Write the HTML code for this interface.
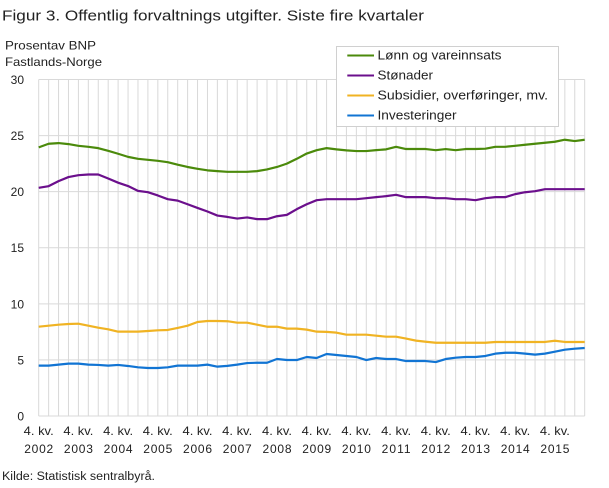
<!DOCTYPE html>
<html><head><meta charset="utf-8"><style>
html,body{margin:0;padding:0;background:#fff;}
svg{display:block;font-family:"Liberation Sans",sans-serif;}
</style></head><body>
<svg width="609" height="488" viewBox="0 0 609 488" xmlns="http://www.w3.org/2000/svg">
<rect width="609" height="488" fill="#fff"/>
<text x="2" y="20.5" font-size="14.5" fill="#222" textLength="422" lengthAdjust="spacingAndGlyphs">Figur 3. Offentlig forvaltnings utgifter. Siste fire kvartaler</text>
<text x="5" y="49.5" font-size="12" fill="#222" textLength="91" lengthAdjust="spacingAndGlyphs">Prosentav BNP</text>
<text x="5" y="66" font-size="12" fill="#222" textLength="97" lengthAdjust="spacingAndGlyphs">Fastlands-Norge</text>

<g transform="translate(38.7,416) scale(9.927,-11.217)" fill="none">
<path vector-effect="non-scaling-stroke" stroke="#d9d9d9" stroke-width="1" d="M0,0V30M1,0V30M2,0V30M3,0V30M4,0V30M5,0V30M6,0V30M7,0V30M8,0V30M9,0V30M10,0V30M11,0V30M12,0V30M13,0V30M14,0V30M15,0V30M16,0V30M17,0V30M18,0V30M19,0V30M20,0V30M21,0V30M22,0V30M23,0V30M24,0V30M25,0V30M26,0V30M27,0V30M28,0V30M29,0V30M30,0V30M31,0V30M32,0V30M33,0V30M34,0V30M35,0V30M36,0V30M37,0V30M38,0V30M39,0V30M40,0V30M41,0V30M42,0V30M43,0V30M44,0V30M45,0V30M46,0V30M47,0V30M48,0V30M49,0V30M50,0V30M51,0V30M52,0V30M53,0V30M54,0V30M55,0V30M0,0H55M0,5H55M0,10H55M0,15H55M0,20H55M0,25H55M0,30H55"/>
<polyline vector-effect="non-scaling-stroke" stroke="#4b8a0b" stroke-width="2.2" stroke-linejoin="round" points="0,23.95 1,24.27 2,24.33 3,24.24 4,24.09 5,24.0 6,23.88 7,23.64 8,23.38 9,23.1 10,22.93 11,22.84 12,22.75 13,22.63 14,22.4 15,22.2 16,22.04 17,21.9 18,21.83 19,21.77 20,21.77 21,21.77 22,21.83 23,21.98 24,22.2 25,22.5 26,22.93 27,23.4 28,23.7 29,23.88 30,23.77 31,23.68 32,23.62 33,23.62 34,23.7 35,23.77 36,24.0 37,23.8 38,23.8 39,23.8 40,23.7 41,23.8 42,23.7 43,23.8 44,23.8 45,23.83 46,24.0 47,24.0 48,24.09 49,24.18 50,24.27 51,24.36 52,24.45 53,24.63 54,24.51 55,24.63"/>
<polyline vector-effect="non-scaling-stroke" stroke="#6b0f8c" stroke-width="2.2" stroke-linejoin="round" points="0,20.34 1,20.49 2,20.94 3,21.3 4,21.47 5,21.53 6,21.53 7,21.17 8,20.8 9,20.5 10,20.07 11,19.95 12,19.66 13,19.33 14,19.2 15,18.88 16,18.55 17,18.23 18,17.87 19,17.75 20,17.6 21,17.7 22,17.55 23,17.55 24,17.81 25,17.93 26,18.44 27,18.88 28,19.24 29,19.33 30,19.33 31,19.33 32,19.33 33,19.42 34,19.51 35,19.6 36,19.72 37,19.51 38,19.51 39,19.51 40,19.42 41,19.42 42,19.33 43,19.33 44,19.24 45,19.42 46,19.51 47,19.51 48,19.78 49,19.95 50,20.04 51,20.22 52,20.22 53,20.22 54,20.22 55,20.22"/>
<polyline vector-effect="non-scaling-stroke" stroke="#f0b323" stroke-width="2.2" stroke-linejoin="round" points="0,7.96 1,8.05 2,8.14 3,8.2 4,8.23 5,8.05 6,7.87 7,7.73 8,7.52 9,7.52 10,7.52 11,7.58 12,7.64 13,7.67 14,7.85 15,8.05 16,8.38 17,8.47 18,8.47 19,8.45 20,8.32 21,8.32 22,8.14 23,7.96 24,7.96 25,7.79 26,7.79 27,7.7 28,7.52 29,7.5 30,7.43 31,7.25 32,7.25 33,7.25 34,7.16 35,7.07 36,7.07 37,6.9 38,6.72 39,6.62 40,6.53 41,6.53 42,6.53 43,6.53 44,6.53 45,6.53 46,6.6 47,6.6 48,6.6 49,6.6 50,6.6 51,6.6 52,6.71 53,6.6 54,6.6 55,6.6"/>
<polyline vector-effect="non-scaling-stroke" stroke="#1174d3" stroke-width="2.2" stroke-linejoin="round" points="0,4.49 1,4.49 2,4.58 3,4.67 4,4.67 5,4.58 6,4.55 7,4.49 8,4.55 9,4.46 10,4.34 11,4.28 12,4.28 13,4.34 14,4.49 15,4.49 16,4.49 17,4.58 18,4.4 19,4.47 20,4.58 21,4.72 22,4.75 23,4.75 24,5.08 25,4.99 26,4.99 27,5.26 28,5.17 29,5.53 30,5.44 31,5.35 32,5.26 33,4.99 34,5.17 35,5.08 36,5.08 37,4.9 38,4.9 39,4.9 40,4.81 41,5.08 42,5.2 43,5.26 44,5.26 45,5.35 46,5.56 47,5.64 48,5.64 49,5.56 50,5.47 51,5.56 52,5.73 53,5.91 54,6.0 55,6.06"/>
</g>

<g font-size="12" fill="#222" text-anchor="end">
<text x="24" y="84">30</text>
<text x="24" y="140">25</text>
<text x="24" y="196">20</text>
<text x="24" y="252.2">15</text>
<text x="24" y="308.3">10</text>
<text x="24" y="364.4">5</text>
<text x="24" y="420.3">0</text>
</g>

<g font-size="12" fill="#222" text-anchor="middle">
<text x="38.7" y="435" textLength="30" lengthAdjust="spacingAndGlyphs">4. kv.</text><text x="38.7" y="453" textLength="29" lengthAdjust="spacing">2002</text>
<text x="78.4" y="435" textLength="30" lengthAdjust="spacingAndGlyphs">4. kv.</text><text x="78.4" y="453" textLength="29" lengthAdjust="spacing">2003</text>
<text x="118.1" y="435" textLength="30" lengthAdjust="spacingAndGlyphs">4. kv.</text><text x="118.1" y="453" textLength="29" lengthAdjust="spacing">2004</text>
<text x="157.8" y="435" textLength="30" lengthAdjust="spacingAndGlyphs">4. kv.</text><text x="157.8" y="453" textLength="29" lengthAdjust="spacing">2005</text>
<text x="197.5" y="435" textLength="30" lengthAdjust="spacingAndGlyphs">4. kv.</text><text x="197.5" y="453" textLength="29" lengthAdjust="spacing">2006</text>
<text x="237.2" y="435" textLength="30" lengthAdjust="spacingAndGlyphs">4. kv.</text><text x="237.2" y="453" textLength="29" lengthAdjust="spacing">2007</text>
<text x="277" y="435" textLength="30" lengthAdjust="spacingAndGlyphs">4. kv.</text><text x="277" y="453" textLength="29" lengthAdjust="spacing">2008</text>
<text x="316.7" y="435" textLength="30" lengthAdjust="spacingAndGlyphs">4. kv.</text><text x="316.7" y="453" textLength="29" lengthAdjust="spacing">2009</text>
<text x="356.4" y="435" textLength="30" lengthAdjust="spacingAndGlyphs">4. kv.</text><text x="356.4" y="453" textLength="29" lengthAdjust="spacing">2010</text>
<text x="396.1" y="435" textLength="30" lengthAdjust="spacingAndGlyphs">4. kv.</text><text x="396.1" y="453" textLength="29" lengthAdjust="spacing">2011</text>
<text x="435.8" y="435" textLength="30" lengthAdjust="spacingAndGlyphs">4. kv.</text><text x="435.8" y="453" textLength="29" lengthAdjust="spacing">2012</text>
<text x="475.5" y="435" textLength="30" lengthAdjust="spacingAndGlyphs">4. kv.</text><text x="475.5" y="453" textLength="29" lengthAdjust="spacing">2013</text>
<text x="515.2" y="435" textLength="30" lengthAdjust="spacingAndGlyphs">4. kv.</text><text x="515.2" y="453" textLength="29" lengthAdjust="spacing">2014</text>
<text x="554.9" y="435" textLength="30" lengthAdjust="spacingAndGlyphs">4. kv.</text><text x="554.9" y="453" textLength="29" lengthAdjust="spacing">2015</text>
</g>

<rect x="336.5" y="46.5" width="222" height="80" fill="#fff" stroke="#d0d0d0" stroke-width="1"/>
<g stroke-width="2">
<line x1="347.3" y1="55.5" x2="374" y2="55.5" stroke="#4b8a0b"/>
<line x1="347.3" y1="75.5" x2="374" y2="75.5" stroke="#6b0f8c"/>
<line x1="347.3" y1="95.5" x2="374" y2="95.5" stroke="#f0b323"/>
<line x1="347.3" y1="115.5" x2="374" y2="115.5" stroke="#1174d3"/>
</g>
<g font-size="13" fill="#222">
<text x="377.5" y="59.6" textLength="124" lengthAdjust="spacingAndGlyphs">Lønn og vareinnsats</text>
<text x="377.5" y="79.6" textLength="55.5" lengthAdjust="spacingAndGlyphs">Stønader</text>
<text x="377.5" y="99.6" textLength="170.5" lengthAdjust="spacingAndGlyphs">Subsidier, overføringer, mv.</text>
<text x="377.5" y="119.6" textLength="79" lengthAdjust="spacingAndGlyphs">Investeringer</text>
</g>

<text x="2" y="480" font-size="11.5" fill="#222" textLength="153" lengthAdjust="spacingAndGlyphs">Kilde: Statistisk sentralbyrå.</text>
</svg>
</body></html>
